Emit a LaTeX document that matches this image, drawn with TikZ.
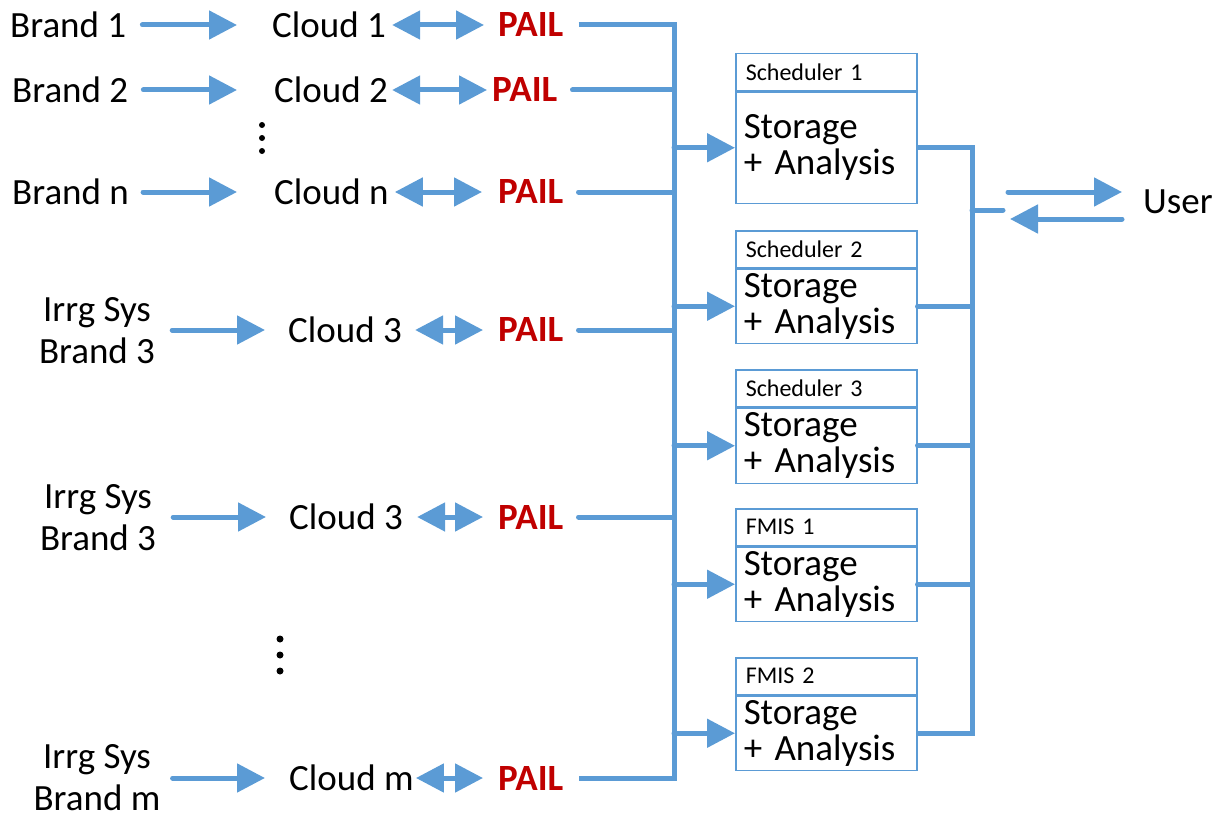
\documentclass[tikz,border=0pt]{standalone}
\usepackage{fontspec}
\setmainfont{Carlito}
\usetikzlibrary{arrows.meta}
\definecolor{flow}{HTML}{5B9BD5}
\definecolor{pailred}{HTML}{C00000}
\begin{document}
\begin{tikzpicture}[x=1pt,y=-1pt,
  lbl/.style={inner sep=0pt, font=\fontsize{37}{42}\selectfont},
  src/.style={lbl, align=center},
  pail/.style={inner sep=0pt, font=\fontsize{37}{42}\selectfont\bfseries, text=pailred},
  tip/.tip={Triangle[length=28pt,width=28pt]},
  wire/.style={draw=flow, line width=5pt, line cap=round},
  feed/.style={wire, -tip},
  both/.style={wire, tip-tip},
  head/.style={draw=flow, line width=1.5pt, anchor=north west, minimum height=37pt,
    inner xsep=10pt, inner ysep=0pt, text width=161pt, align=left, font=\fontsize{24}{28}\selectfont},
  store/.style={draw=flow, line width=1.5pt, anchor=north west,
    inner xsep=8pt, inner ysep=0pt, text width=165pt, align=left, font=\fontsize{37}{36}\selectfont},
]
\useasboundingbox (0,0) rectangle (1224,816);

% ---- sources, clouds and PAIL adapters ----
\node[lbl, anchor=west] (s1) at (10,25) {Brand 1};
\node[lbl, anchor=west] (c1) at (272,25) {Cloud 1};
\node[pail, anchor=west] (p1) at (498,25) {PAIL};

\node[lbl, anchor=west] (s2) at (12,90) {Brand 2};
\node[lbl, anchor=west] (c2) at (274,90) {Cloud 2};
\node[pail, anchor=west] (p2) at (492,90) {PAIL};

\node[lbl, anchor=west] (s3) at (12,192) {Brand n};
\node[lbl, anchor=west] (c3) at (274,192) {Cloud n};
\node[pail, anchor=west] (p3) at (498,192) {PAIL};

\node[src] (s4) at (97,331) {Irrg Sys\\Brand 3};
\node[lbl, anchor=west] (c4) at (288,330) {Cloud 3};
\node[pail, anchor=west] (p4) at (498,330) {PAIL};

\node[src] (s5) at (98,518) {Irrg Sys\\Brand 3};
\node[lbl, anchor=west] (c5) at (289,517) {Cloud 3};
\node[pail, anchor=west] (p5) at (498,517) {PAIL};

\node[src] (s6) at (97,778) {Irrg Sys\\Brand m};
\node[lbl, anchor=west] (c6) at (289,778) {Cloud m};
\node[pail, anchor=west] (p6) at (498,778) {PAIL};

% vertical ellipses
\foreach \y in {125,138,151} \fill (262,\y) circle (3pt);
\foreach \y in {639,655,671} \fill (280,\y) circle (3.5pt);

% source -> cloud
\draw[feed, shorten <=16pt, shorten >=35pt] (s1.east) -- (c1.west);
\draw[feed, shorten <=15pt, shorten >=37pt] (s2.east) -- (c2.west);
\draw[feed, shorten <=14pt, shorten >=37pt] (s3.east) -- (c3.west);
\draw[feed, shorten <=17pt, shorten >=23pt] (s4.east |- c4.west) -- (c4.west);
\draw[feed, shorten <=17pt, shorten >=23pt] (s5.east |- c5.west) -- (c5.west);
\draw[feed, shorten <=12pt, shorten >=24pt] (s6.east |- c6.west) -- (c6.west);

% cloud <-> PAIL
\draw[both, shorten <=6pt, shorten >=14pt] (c1.east) -- (p1.west);
\draw[both, shorten <=4pt, shorten >=5pt] (c2.east) -- (p2.west);
\draw[both, shorten <=6pt, shorten >=16pt] (c3.east) -- (p3.west);
\draw[both, shorten <=13pt, shorten >=15pt] (c4.east) -- (p4.west);
\draw[both, shorten <=14pt, shorten >=15pt] (c5.east) -- (p5.west);
\draw[both, shorten <=2pt, shorten >=15pt] (c6.east) -- (p6.west);

% ---- storage and analysis services ----
\node[head] (h1) at (735,53) {Scheduler 1};
\node[store, minimum height=111pt] (a1) at (h1.south west) {Storage\\+ Analysis};
\node[head] (h2) at (735,230) {Scheduler 2};
\node[store, minimum height=74pt] (a2) at (h2.south west) {Storage\\+ Analysis};
\node[head] (h3) at (735,369) {Scheduler 3};
\node[store, minimum height=75pt] (a3) at (h3.south west) {Storage\\+ Analysis};
\node[head] (h4) at (735,508) {FMIS 1};
\node[store, minimum height=74pt] (a4) at (h4.south west) {Storage\\+ Analysis};
\node[head] (h5) at (735,657) {FMIS 2};
\node[store, minimum height=74pt] (a5) at (h5.south west) {Storage\\+ Analysis};

% collecting bus from the PAIL adapters
\coordinate (bus) at (674,0);
\draw[wire, line cap=butt, shorten <=15pt, shorten >=15pt]
  (p1.east) -- (p1.east -| bus) -- (p6.east -| bus) -- (p6.east);
\foreach \p in {p2,p3,p4,p5}
  \draw[wire, shorten <=15pt] (\p.east) -- (\p.east -| bus);
\foreach \a in {a1,a2,a3,a4,a5}
  \draw[feed] (\a.west -| bus) -- (\a.west);

% output bus to the user
\coordinate (bus2) at (972,0);
\draw[wire, line cap=butt] (a1.east) -- (a1.east -| bus2) -- (a5.east -| bus2) -- (a5.east);
\foreach \a in {a2,a3,a4}
  \draw[wire] (\a.east) -- (\a.east -| bus2);
\coordinate (hub) at (1003,210);
\draw[wire] (hub -| bus2) -- (hub);

\node[lbl, anchor=west] (user) at (1143,202) {User};
\coordinate (uo) at (1008,192);
\coordinate (ui) at (1010,219);
\draw[feed, shorten >=21pt] (uo) -- (uo -| user.west);
\draw[feed, shorten <=21pt] (ui -| user.west) -- (ui);
\end{tikzpicture}
\end{document}
